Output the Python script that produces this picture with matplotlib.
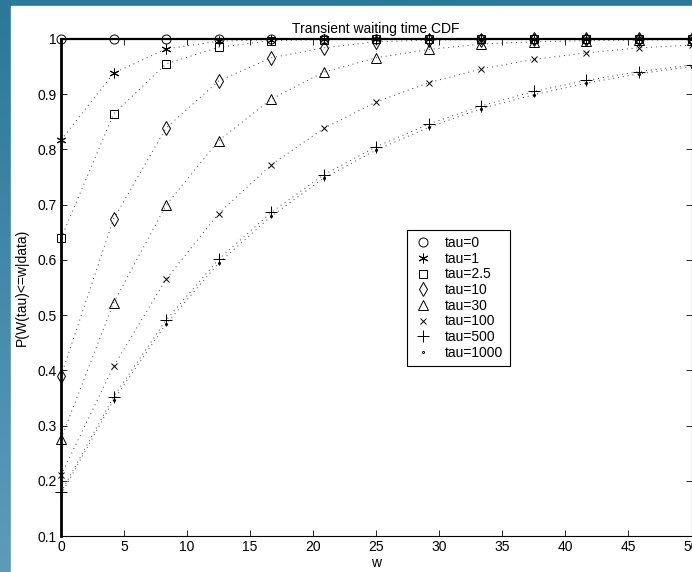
import numpy as np
import matplotlib
matplotlib.use("Agg")
import matplotlib.pyplot as plt
from matplotlib.patches import Rectangle

plt.rcParams['font.family'] = ['Liberation Sans', 'DejaVu Sans']
plt.rcParams['font.size'] = 10

# waiting time grid where the CDF was sampled
w = [0, 4.1667, 8.3333, 12.5, 16.6667, 20.8333, 25, 29.1667,
     33.3333, 37.5, 41.6667, 45.8333, 50]

cdf_tau0 = [1.0] * 13
cdf_tau1 = [0.817, 0.938, 0.982, 0.996, 0.999, 1.0, 1.0, 1.0, 1.0, 1.0, 1.0, 1.0, 1.0]
cdf_tau2_5 = [0.639, 0.864, 0.955, 0.985, 0.997, 0.999, 1.0, 1.0, 1.0, 1.0, 1.0, 1.0, 1.0]
cdf_tau10 = [0.390, 0.674, 0.839, 0.924, 0.966, 0.984, 0.995, 0.998, 0.999, 1.0, 1.0, 1.0, 1.0]
cdf_tau30 = [0.276, 0.522, 0.699, 0.816, 0.891, 0.940, 0.966, 0.981, 0.991, 0.995, 0.997, 0.998, 0.999]
cdf_tau100 = [0.210, 0.407, 0.565, 0.684, 0.772, 0.838, 0.886, 0.921, 0.946, 0.963, 0.975, 0.984, 0.989]
cdf_tau500 = [0.179, 0.352, 0.491, 0.601, 0.686, 0.754, 0.805, 0.846, 0.879, 0.905, 0.925, 0.941, 0.953]
cdf_tau1000 = [0.175, 0.346, 0.484, 0.594, 0.679, 0.748, 0.799, 0.840, 0.874, 0.899, 0.920, 0.937, 0.950]

labels = ["tau=0", "tau=1", "tau=2.5", "tau=10", "tau=30", "tau=100", "tau=500", "tau=1000"]
series = [cdf_tau0, cdf_tau1, cdf_tau2_5, cdf_tau10, cdf_tau30, cdf_tau100, cdf_tau500, cdf_tau1000]
markers = ["o", (6, 2, 0), "s", "d", "^", "x", "+", "."]
sizes = [6.5, 7, 5.5, 7, 7, 5, 8, 3]

yticks = [0.1, 0.2, 0.3, 0.4, 0.5, 0.6, 0.7, 0.8, 0.9, 1.0]
ytick_labels = ["0.1", "0.2", "0.3", "0.4", "0.5", "0.6", "0.7", "0.8", "0.9", "1"]
xticks = [0, 5, 10, 15, 20, 25, 30, 35, 40, 45, 50]

W, H = 692, 572
fig = plt.figure(figsize=(W / 100, H / 100), dpi=100)

# blue frame behind the white page
bg = fig.add_axes([0, 0, 1, 1])
grad = np.linspace(0, 1, 256).reshape(-1, 1)
top_col = np.array([0x2b, 0x78, 0x98]) / 255
bot_col = np.array([0x5e, 0x9b, 0xba]) / 255
img = top_col[None, None, :] * (1 - grad[:, :, None]) + bot_col[None, None, :] * grad[:, :, None]
bg.imshow(img, extent=[0, W, H, 0], aspect="auto")
bg.add_patch(Rectangle((11, 6), W, H, color="white"))
bg.set_xlim(0, W)
bg.set_ylim(H, 0)
bg.axis("off")

ax = fig.add_axes([61 / W, 36 / H, 630.5 / W, 497 / H])
ax.set_facecolor("white")

handles = []
for vals, m, ms, lab in zip(series, markers, sizes, labels):
    ax.plot(w, vals, linestyle=(0, (1, 4)), color="0.25", lw=0.7)
    h, = ax.plot(w, vals, linestyle="none", marker=m, ms=ms, mfc="none",
                 mec="k", mew=0.7, color="k", clip_on=False, label=lab, zorder=5)
    handles.append(h)

ax.set_xlim(0, 50)
ax.set_ylim(0.1, 1)
ax.set_xticks(xticks)
ax.set_xticklabels([str(x) for x in xticks])
ax.set_yticks(yticks)
ax.set_yticklabels(ytick_labels)
ax.tick_params(direction="in", top=True, right=True, length=4, width=0.6, pad=3)

ax.spines["left"].set_linewidth(2)
ax.spines["top"].set_linewidth(1.6)
ax.spines["bottom"].set_linewidth(0.8)
ax.spines["right"].set_linewidth(0.8)

ax.set_title("Transient waiting time CDF", fontsize=10, pad=4)
ax.set_xlabel("w", labelpad=1)
ax.set_ylabel("P(W(tau)<=w|data)", labelpad=6)

leg = ax.legend(handles=handles, loc="upper left", bbox_to_anchor=(0.549, 0.616),
                borderaxespad=0, fancybox=False, edgecolor="k", framealpha=1,
                labelspacing=0.12, handlelength=1.4, handletextpad=0.9, borderpad=0.45)
leg.get_frame().set_linewidth(0.8)

fig.savefig("out.png", dpi=100)
